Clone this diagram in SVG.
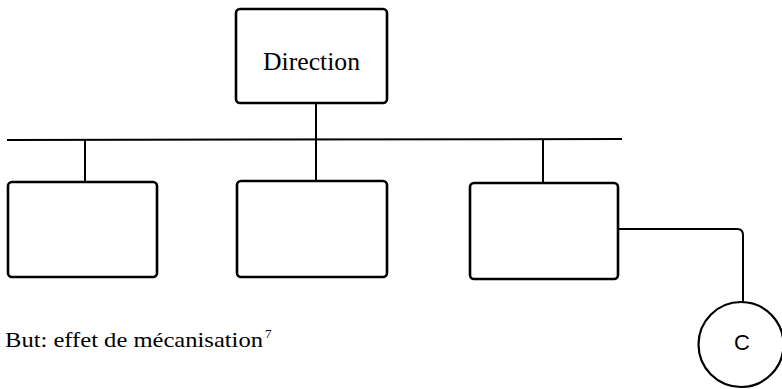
<svg xmlns="http://www.w3.org/2000/svg" width="782" height="389" viewBox="0 0 782 389">
  <style>
    .box { fill: #fff; stroke: #000; stroke-width: 2.6; }
    .wire { fill: none; stroke: #000; stroke-width: 2; stroke-linejoin: round; }
    .serif { font-family: "Liberation Serif", "Times New Roman", serif; fill: #000; }
    .sans { font-family: "Liberation Sans", Arial, sans-serif; fill: #000; }
  </style>
  <rect width="782" height="389" fill="#fff"/>

  <!-- connectors -->
  <g id="connectors" class="wire">
    <line x1="7" y1="140" x2="622" y2="139"/>
    <line x1="316" y1="103" x2="316" y2="182"/>
    <line x1="85" y1="140" x2="85" y2="182"/>
    <line x1="543" y1="139" x2="543" y2="183"/>
    <path d="M618 229 H737 Q743 229 743 235 V302"/>
  </g>

  <!-- nodes -->
  <g id="direction">
    <rect class="box" x="236" y="9" width="151" height="94" rx="4"/>
    <text class="serif" x="311.5" y="70" font-size="25" text-anchor="middle" textLength="97" lengthAdjust="spacingAndGlyphs">Direction</text>
  </g>
  <g id="unit-left">
    <rect class="box" x="8" y="182" width="149" height="95" rx="4"/>
  </g>
  <g id="unit-middle">
    <rect class="box" x="237" y="181" width="150" height="96" rx="4"/>
  </g>
  <g id="unit-right">
    <rect class="box" x="470" y="183" width="148" height="96" rx="4"/>
  </g>
  <g id="circle-c">
    <circle cx="741" cy="344.5" r="42.5" fill="#fff" stroke="#000" stroke-width="2.2"/>
    <text class="sans" x="742" y="350" font-size="22" text-anchor="middle">C</text>
  </g>

  <!-- caption -->
  <g id="caption">
    <text class="serif" x="5" y="347" font-size="22" textLength="258" lengthAdjust="spacingAndGlyphs">But: effet de mécanisation</text>
    <text class="serif" x="265" y="338" font-size="13">7</text>
  </g>
</svg>
